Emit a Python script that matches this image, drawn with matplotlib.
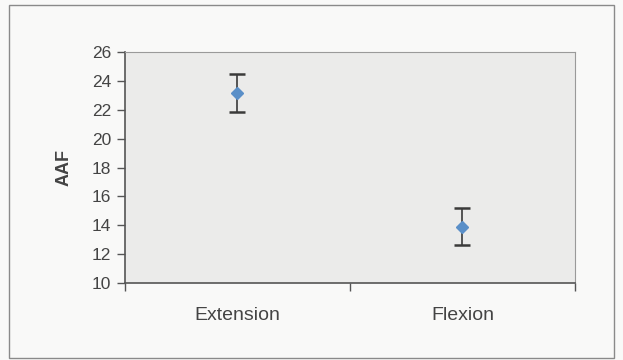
import matplotlib.pyplot as plt
from matplotlib.patches import Rectangle
from matplotlib.ticker import FixedLocator

categories = ['Extension', 'Flexion']
means = [23.15, 13.9]
errors = [1.3, 1.3]
yticks = [10, 12, 14, 16, 18, 20, 22, 24, 26]

plt.rcParams['font.family'] = ['Liberation Sans', 'DejaVu Sans']

fig = plt.figure(figsize=(6.23, 3.6), dpi=100)
fig.patch.set_facecolor('#f9f9f8')
# outer chart frame
fig.patches.append(Rectangle((9 / 623, 2 / 360), 605 / 623, 353 / 360, transform=fig.transFigure,
                             fill=False, edgecolor='#8a8a8a', linewidth=1.0))

ax = fig.add_axes([125 / 623, 77 / 360, 450 / 623, 231 / 360])
ax.set_facecolor('#ebebea')

x = list(range(len(categories)))
ax.errorbar(x, means, yerr=errors, fmt='none', ecolor='#3a3a3a', elinewidth=1.2,
            capsize=5.5, capthick=1.8, zorder=2)
ax.plot(x, means, linestyle='none', marker='D', markersize=6.5, color='#5a8fc8',
        markeredgecolor='#5a8fc8', zorder=3)

ax.set_xlim(-0.5, 1.5)
ax.set_ylim(10, 26)
ax.set_yticks(yticks)
ax.set_xticks(x)
ax.set_xticklabels(categories)
ax.xaxis.set_minor_locator(FixedLocator([-0.5, 0.5, 1.5]))
ax.tick_params(axis='x', which='major', length=0, pad=17, labelsize=14, labelcolor='#444444')
ax.tick_params(axis='x', which='minor', length=6, width=1, color='#555555', direction='out')
ax.tick_params(axis='y', length=6, width=1, color='#555555', direction='out', pad=4,
               labelsize=12.5, labelcolor='#444444')

for side in ['top', 'right']:
    ax.spines[side].set_color('#9a9a9a')
    ax.spines[side].set_linewidth(0.8)
for side in ['left', 'bottom']:
    ax.spines[side].set_color('#555555')
    ax.spines[side].set_linewidth(1.2)

ax.set_ylabel('AAF', fontsize=13, fontweight='bold', color='#444444', labelpad=14)

fig.savefig('out.png', dpi=100, facecolor=fig.get_facecolor())
